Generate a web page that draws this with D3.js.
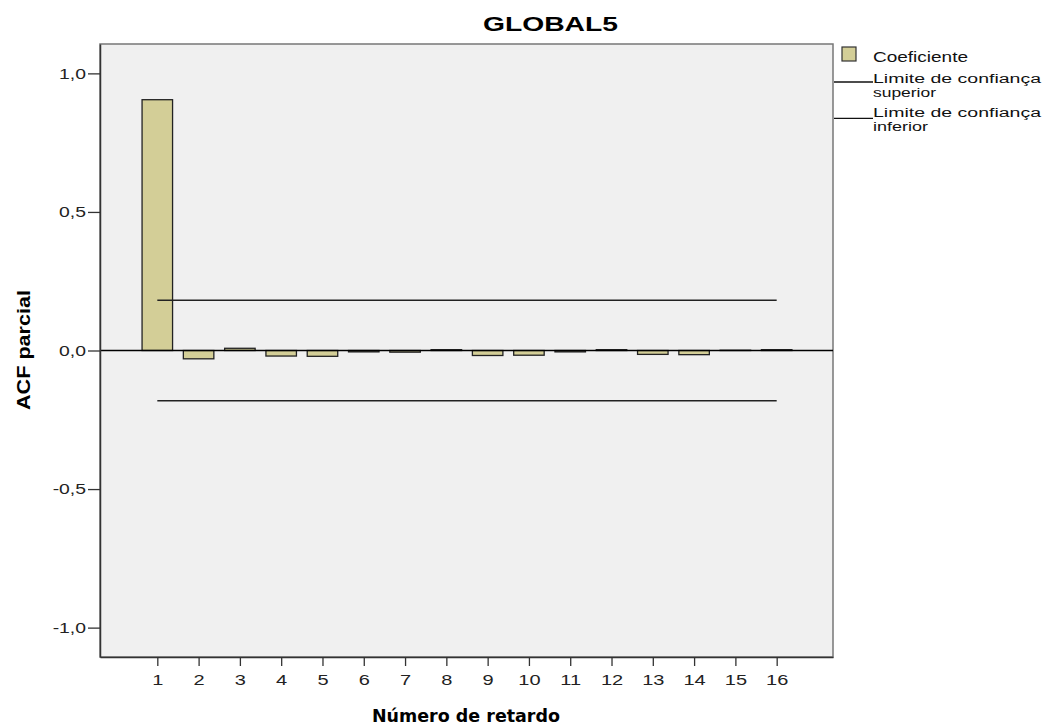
<!DOCTYPE html>
<html><head><meta charset="utf-8">
<script src="https://cdn.jsdelivr.net/npm/d3@7"></script>
<style>body{margin:0;background:#fff}svg{display:block}</style>
</head><body>
<script>
const title = "GLOBAL5";
const lags = [1,2,3,4,5,6,7,8,9,10,11,12,13,14,15,16];
const coef = [0.905,-0.030,0.008,-0.020,-0.021,-0.005,-0.006,0.003,-0.018,-0.017,-0.005,0.003,-0.014,-0.015,0.001,0.003];
const upperLimit = [0.181,0.181,0.181,0.181,0.181,0.181,0.181,0.181,0.181,0.181,0.181,0.181,0.181,0.181,0.181,0.181];
const lowerLimit = [-0.181,-0.181,-0.181,-0.181,-0.181,-0.181,-0.181,-0.181,-0.181,-0.181,-0.181,-0.181,-0.181,-0.181,-0.181,-0.181];
const yTicks = [-1.0,-0.5,0.0,0.5,1.0];
const legendLabels = ["Coeficiente", ["Limite de confiança","superior"], ["Limite de confiança","inferior"]];

const W = 1045, H = 726;
const L = 100, R = 833, T = 44, B = 657;
const SANS = "Liberation Sans, Arial, sans-serif";
const svg = d3.select("body").append("svg").attr("width", W).attr("height", H);

const x = d3.scaleLinear().domain([-0.388, 17.364]).range([L, R]);
const y = d3.scaleLinear().domain([-1.106, 1.106]).range([B, T]);
const bw = 30.5;

svg.append("rect").attr("x", L).attr("y", T).attr("width", R-L).attr("height", B-T)
  .attr("fill", "#f0f0f0").attr("stroke", "#777").attr("stroke-width", 1.5);

// bars
svg.append("g").selectAll("rect").data(lags).join("rect")
  .attr("x", d => x(d) - bw/2)
  .attr("y", (d,i) => y(Math.max(0, coef[i])))
  .attr("width", bw)
  .attr("height", (d,i) => Math.abs(y(coef[i]) - y(0)))
  .attr("fill", "#d3ce97").attr("stroke", "#222").attr("stroke-width", 1.3);

// zero line
svg.append("line").attr("x1", L).attr("x2", R).attr("y1", y(0)).attr("y2", y(0))
  .attr("stroke", "#000").attr("stroke-width", 1.3);

// confidence limits
const lineGen = d3.line().x(d => x(d[0])).y(d => y(d[1]));
svg.append("path").datum(lags.map((d,i) => [d, upperLimit[i]])).attr("d", lineGen)
  .attr("fill", "none").attr("stroke", "#222").attr("stroke-width", 1.5);
svg.append("path").datum(lags.map((d,i) => [d, lowerLimit[i]])).attr("d", lineGen)
  .attr("fill", "none").attr("stroke", "#222").attr("stroke-width", 1.5);

// axes
const fmt = d => d3.format(".1f")(d).replace(".", ",").replace("−","-");
const yAxis = svg.append("g").attr("transform", `translate(${L},0)`)
  .call(d3.axisLeft(y).tickValues(yTicks).tickSize(12).tickPadding(2).tickSizeOuter(0).tickFormat(fmt));
yAxis.select(".domain").attr("stroke", "#333").attr("stroke-width", 1.5);
yAxis.selectAll(".tick line").attr("stroke", "#333").attr("stroke-width", 1.3);
yAxis.selectAll("text").attr("font-family", SANS).attr("font-size", 15).attr("fill", "#222").classed("stretch", true);

const xAxis = svg.append("g").attr("transform", `translate(0,${B})`)
  .call(d3.axisBottom(x).tickValues(lags).tickSize(9).tickSizeOuter(0).tickFormat(d3.format("d")));
xAxis.select(".domain").attr("stroke", "#333").attr("stroke-width", 1.5);
xAxis.selectAll(".tick line").attr("stroke", "#333").attr("stroke-width", 1.3);
xAxis.selectAll("text").attr("font-family", SANS).attr("font-size", 15.5).attr("fill", "#222")
  .attr("y", 28).attr("dy", null).classed("stretch", true);

// titles
svg.append("text").attr("x", 550.5).attr("y", 31).attr("text-anchor", "middle")
  .attr("font-family", SANS).attr("font-weight", "bold").attr("font-size", 19.5)
  .attr("textLength", 135).attr("lengthAdjust", "spacingAndGlyphs")
  .text(title);
svg.append("text").attr("x", 466).attr("y", 722).attr("text-anchor", "middle")
  .attr("font-family", "DejaVu Sans, Verdana, sans-serif").attr("font-weight", "bold").attr("font-size", 17)
  .attr("textLength", 188).attr("lengthAdjust", "spacingAndGlyphs")
  .text("Número de retardo");
svg.append("text").attr("transform", `translate(30,350) rotate(-90)`).attr("text-anchor", "middle")
  .attr("font-family", SANS).attr("font-weight", "bold").attr("font-size", 18)
  .attr("textLength", 120).attr("lengthAdjust", "spacingAndGlyphs")
  .text("ACF parcial");

// legend
const lg = svg.append("g").attr("font-family", SANS).attr("font-size", 12.5).attr("fill", "#111");
lg.append("rect").attr("x", 842).attr("y", 47).attr("width", 14).attr("height", 14)
  .attr("fill", "#d3ce97").attr("stroke", "#333").attr("stroke-width", 1.2);
lg.append("text").attr("x", 873).attr("y", 61.5).attr("font-size", 14)
  .attr("textLength", 95).attr("lengthAdjust", "spacingAndGlyphs").text(legendLabels[0]);
[[82, 83, legendLabels[1]], [118.3, 117, legendLabels[2]]].forEach(([yy, tb, labs]) => {
  lg.append("line").attr("x1", 834).attr("x2", 873).attr("y1", yy).attr("y2", yy).attr("stroke", "#111").attr("stroke-width", 1.3);
  lg.append("text").attr("x", 873).attr("y", tb)
    .attr("textLength", 168).attr("lengthAdjust", "spacingAndGlyphs").text(labs[0]);
  lg.append("text").attr("x", 873).attr("y", tb + 14)
    .attr("textLength", labs[1] === "superior" ? 63 : 55).attr("lengthAdjust", "spacingAndGlyphs").text(labs[1]);
});

// horizontal stretch of text to mimic the wide rendering of the original
svg.selectAll("text.stretch").each(function() {
  const len = this.getComputedTextLength();
  d3.select(this).attr("textLength", len * 1.29).attr("lengthAdjust", "spacingAndGlyphs");
});
</script>
</body></html>
